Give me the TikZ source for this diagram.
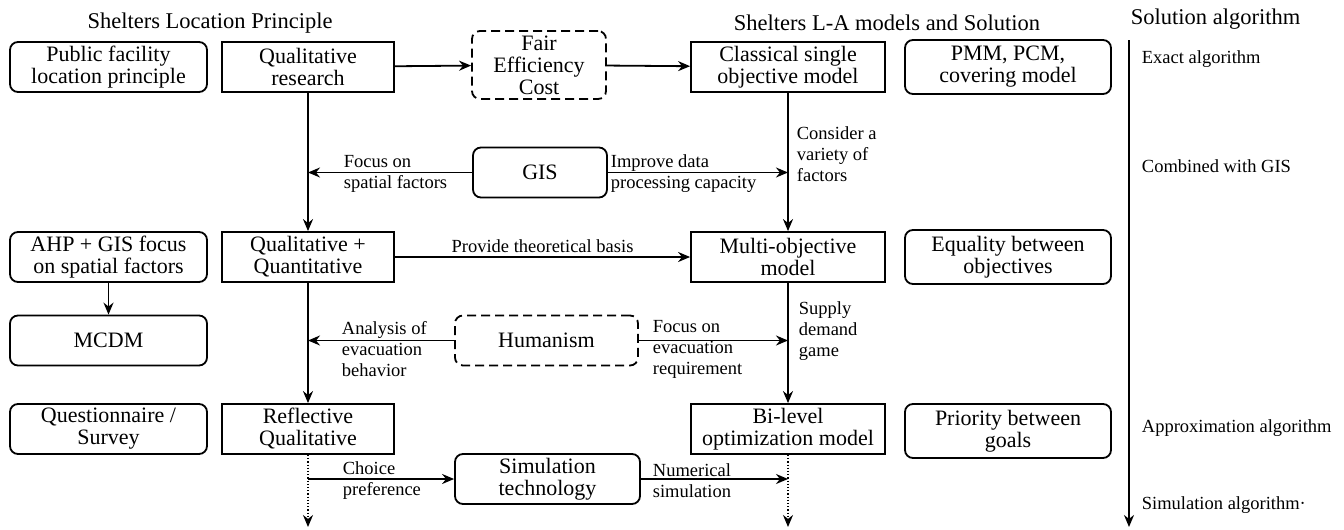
\documentclass[tikz,border=0pt]{standalone}
\usepackage{fontspec}
\setmainfont{Liberation Serif}
\usetikzlibrary{arrows.meta}
\begin{document}
\begin{tikzpicture}[x=1pt, y=-1pt, >={Stealth[length=12pt,width=10pt]}, line width=1.8pt,
  box/.style={draw, minimum height=50pt, align=center, inner sep=2pt, font=\rmfamily\fontsize{22}{22}\selectfont},
  rbox/.style={box, rounded corners=8pt},
  dbox/.style={rbox, dash pattern=on 9pt off 5pt},
  lab/.style={anchor=west, align=left, inner sep=0pt, font=\rmfamily\fontsize{18.5}{21}\selectfont},
  head/.style={inner sep=0pt, font=\rmfamily\fontsize{22.5}{24}\selectfont}]
 \useasboundingbox (0,0) rectangle (1344,530);
 \node[head](h1) at (210,23){Shelters Location Principle};
 \node[head](h2) at (887,23){Shelters L-A models and Solution};
 \node[head, anchor=west](h3) at (1130,19){Solution algorithm};
 % first column
 \node[rbox, minimum width=197pt](pf) at (108.5,67){Public facility\\location principle};
 \node[rbox, minimum width=197pt](ahp) at (108.5,257){AHP + GIS focus\\on spatial factors};
 \node[rbox, minimum width=197pt](mcdm) at (108.5,340.5){MCDM};
 \node[rbox, minimum width=197pt](qs) at (108.5,429){Questionnaire /\\Survey};
 % principle column
 \node[box, minimum width=172pt](qr) at (308,67){Qualitative\\research};
 \node[box, minimum width=172pt](qq) at (308,257){Qualitative +\\Quantitative};
 \node[box, minimum width=172pt](rq) at (308,429){Reflective\\Qualitative};
 % middle
 \node[dbox, minimum width=134pt, minimum height=68pt](fec) at (539,65){Fair\\Efficiency\\Cost};
 \node[rbox, minimum width=134pt](gis) at (540,172.5){GIS};
 \node[dbox, minimum width=183pt](hum) at (546.5,340.5){Humanism};
 \node[rbox, minimum width=185pt](sim) at (547.5,479){Simulation\\technology};
 % models
 \node[box, minimum width=194pt](cs) at (788,67){Classical single\\objective model};
 \node[box, minimum width=194pt](mo) at (788,257){Multi-objective\\model};
 \node[box, minimum width=194pt](bl) at (788,429){Bi-level\\optimization model};
 \node[rbox, minimum width=206pt, minimum height=54pt](pmm) at (1008,67){PMM, PCM,\\covering model};
 \node[rbox, minimum width=206pt, minimum height=54pt](eq) at (1008,257){Equality between\\objectives};
 \node[rbox, minimum width=206pt, minimum height=54pt](pg) at (1008,431){Priority between\\goals};
 % arrows
 \draw[->](qr)--(fec);
 \draw[->](fec)--(cs);
 \draw[->](qr)--(qq);
 \draw[->](qq)--(rq);
 \draw[->](cs)--(mo);
 \draw[->](mo)--(bl);
 \draw[->](ahp)--(mcdm);
 \draw[->](gis.west)--(qr.south |- gis.west);
 \draw[->](gis.east)--(cs.south |- gis.east);
 \draw[->](hum.west)--(qq.south |- hum.west);
 \draw[->](hum.east)--(mo.south |- hum.east);
 \draw[->](qq)--node[above, inner sep=3pt, font=\rmfamily\fontsize{18.5}{21}\selectfont]{Provide theoretical basis}(mo);
 \coordinate(end1) at (308,527);
 \coordinate(end2) at (788,527);
 \draw[->, dotted, line width=1.2pt](rq)--(end1);
 \draw[->, dotted, line width=1.2pt](bl)--(end2);
 \draw[->](rq.south |- sim.west)--(sim.west);
 \draw[->](sim.east)--(bl.south |- sim.east);
 % labels
 \node[lab](l1) at (343,174){Focus on\\spatial factors};
 \node[lab](l2) at (610,174){Improve data\\processing capacity};
 \node[lab](l3) at (796,154){Consider a\\variety of\\factors};
 \node[lab](l4) at (341,349){Analysis of\\evacuation\\behavior};
 \node[lab](l5) at (652,349){Focus on\\evacuation\\requirement};
 \node[lab](l6) at (798,331){Supply\\demand\\game};
 \node[lab](l7) at (342,481){Choice\\preference};
 \node[lab](l8) at (652,481){Numerical\\simulation};
 % solution algorithm
 \coordinate(top) at (1129,40);
 \coordinate(bot) at (1129,527);
 \draw[->](top)--(bot);
 \foreach \y/\t/\n in {59/Exact algorithm/a1, 166/Combined with GIS/a2, 428/Approximation algorithm/a3, 505/Simulation algorithm·/a4}
 {
     \node[lab](\n) at (1141,\y){\t};
 }
\end{tikzpicture}
\end{document}
